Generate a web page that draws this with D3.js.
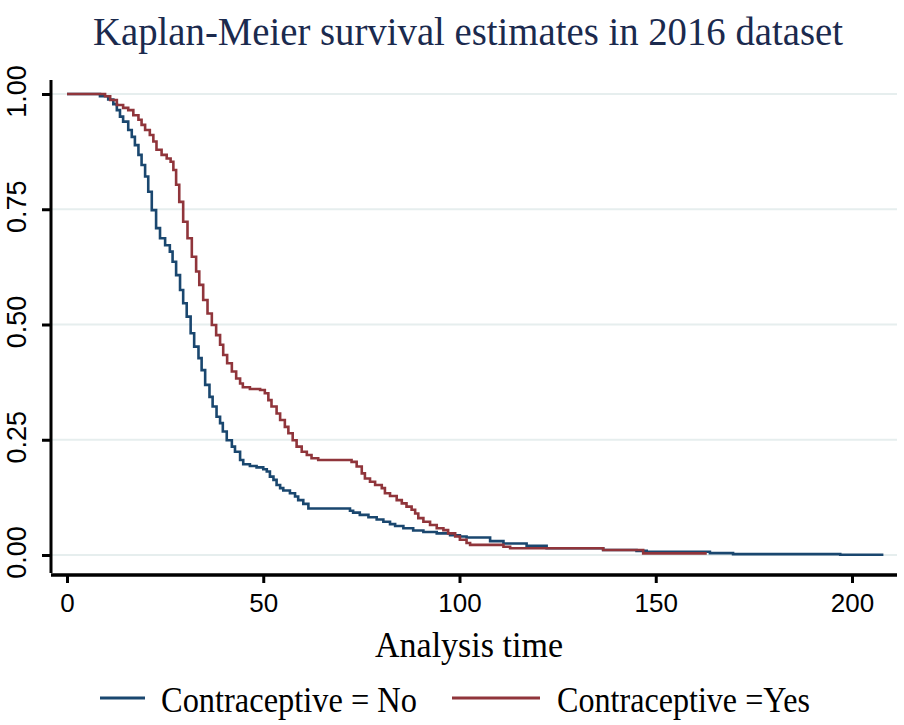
<!DOCTYPE html>
<html>
<head>
<meta charset="utf-8">
<script src="https://cdn.jsdelivr.net/npm/d3@7"></script>
<style>
  body { margin: 0; background: #fff; }
  svg { display: block; }
</style>
</head>
<body>
<div id="chart"></div>
<script>
// Kaplan-Meier curves: [time, survival]
var seriesNames = ["Contraceptive = No", "Contraceptive =Yes"];
var seriesColors = ["#1a476f", "#90353b"];

var survNo = [
  [0, 1], [8.4, 0.995], [10.5, 0.988], [11.8, 0.978], [12.7, 0.965], [13.5, 0.951],
  [14.3, 0.94], [15.6, 0.922], [16.5, 0.907], [17.3, 0.889], [18.2, 0.868], [19.0, 0.846],
  [19.9, 0.821], [20.7, 0.788], [21.6, 0.748], [22.7, 0.709], [23.7, 0.687], [25.0, 0.672],
  [26.2, 0.658], [26.9, 0.636], [27.8, 0.607], [28.8, 0.575], [29.6, 0.546], [30.5, 0.517],
  [31.5, 0.481], [32.4, 0.452], [33.5, 0.427], [34.3, 0.401], [35.2, 0.369], [36.3, 0.343],
  [37.1, 0.322], [38.1, 0.3], [39.0, 0.286], [39.7, 0.268], [40.7, 0.249], [42.0, 0.235],
  [42.8, 0.224], [44.1, 0.206], [44.9, 0.197], [46.6, 0.193], [48.3, 0.19], [50.0, 0.186],
  [50.9, 0.181], [51.7, 0.17], [52.6, 0.163], [53.4, 0.152], [54.3, 0.145], [55.1, 0.14],
  [56.8, 0.134], [58.1, 0.127], [58.9, 0.119], [60.2, 0.111], [61.5, 0.101], [72.1, 0.096],
  [72.9, 0.092], [74.6, 0.087], [76.8, 0.082], [78.9, 0.077], [80.6, 0.072], [82.3, 0.067],
  [83.6, 0.063], [85.7, 0.058], [88.2, 0.053], [90.8, 0.05], [94.2, 0.047], [97.6, 0.043],
  [100.1, 0.04], [101.8, 0.038], [107.8, 0.03], [111.2, 0.025], [117.1, 0.02], [122.2, 0.0145],
  [136.6, 0.011], [145.1, 0.009], [147.7, 0.007], [163.8, 0.004], [169.7, 0.002], [197, 0.0005],
  [208, 0.0005]
];

var survYes = [
  [0, 1], [9.7, 0.995], [11.0, 0.987], [12.7, 0.976], [14.3, 0.97], [15.6, 0.965],
  [16.9, 0.954], [18.2, 0.944], [19.0, 0.933], [19.9, 0.922], [21.1, 0.911], [22.0, 0.897],
  [22.8, 0.879], [24.1, 0.868], [25.4, 0.86], [26.4, 0.853], [27.1, 0.835], [27.8, 0.803],
  [28.6, 0.766], [29.6, 0.723], [30.7, 0.687], [31.8, 0.647], [32.9, 0.615], [33.7, 0.586],
  [34.7, 0.553], [35.8, 0.524], [36.9, 0.499], [38.0, 0.477], [39.0, 0.456], [39.8, 0.434],
  [40.8, 0.416], [42.0, 0.398], [43.1, 0.383], [44.1, 0.372], [44.8, 0.364], [46.6, 0.36],
  [49.2, 0.358], [50.4, 0.351], [51.3, 0.336], [52.1, 0.322], [53.4, 0.307], [54.3, 0.293],
  [55.5, 0.278], [56.4, 0.264], [57.5, 0.249], [58.5, 0.235], [59.8, 0.224], [61.1, 0.217],
  [62.3, 0.21], [64.0, 0.206], [72.5, 0.202], [73.8, 0.192], [75.1, 0.177], [75.9, 0.166],
  [77.2, 0.159], [78.5, 0.152], [80.2, 0.145], [81.0, 0.134], [82.3, 0.128], [84.0, 0.119],
  [85.3, 0.112], [86.5, 0.105], [87.8, 0.098], [88.7, 0.09], [89.5, 0.08], [90.8, 0.072],
  [92.5, 0.065], [94.2, 0.058], [95.9, 0.054], [97.1, 0.047], [98.9, 0.04], [100.1, 0.033],
  [101.8, 0.026], [102.7, 0.022], [111.2, 0.018], [112.9, 0.0145], [136.6, 0.011],
  [146.8, 0.0036], [163, 0.0036]
];

var xTicks = [0, 50, 100, 150, 200];
var yTicks = [0, 0.25, 0.5, 0.75, 1];

var width = 904, height = 725;

var svg = d3.select("#chart").append("svg")
  .attr("width", width)
  .attr("height", height);

// scales (pixel anchors)
var x = d3.scaleLinear().domain([0, 200]).range([67, 852]);
var y = d3.scaleLinear().domain([0, 1]).range([555, 94]);

var serif = "'Liberation Serif', 'Times New Roman', serif";
var sans = "'Liberation Sans', Arial, sans-serif";

// title
svg.append("text")
  .attr("x", 468)
  .attr("y", 45)
  .attr("text-anchor", "middle")
  .attr("font-family", serif)
  .attr("font-size", 40)
  .attr("fill", "#1b2a4e")
  .attr("textLength", 750)
  .attr("lengthAdjust", "spacingAndGlyphs")
  .text("Kaplan-Meier survival estimates in 2016 dataset");

// grid lines
svg.append("g").selectAll("line")
  .data(yTicks)
  .enter().append("line")
  .attr("x1", 52)
  .attr("x2", 897)
  .attr("y1", function (d) { return y(d); })
  .attr("y2", function (d) { return y(d); })
  .attr("stroke", "#e6eeee")
  .attr("stroke-width", 2);

// y axis
var yAxis = svg.append("g")
  .attr("transform", "translate(51,0)")
  .call(d3.axisLeft(y).tickValues(yTicks).tickSize(9).tickFormat(d3.format(".2f")));
yAxis.select(".domain").remove();
yAxis.selectAll("line").attr("stroke", "#000").attr("stroke-width", 3);
yAxis.selectAll("text")
  .attr("x", 0)
  .attr("dy", null)
  .attr("transform", "translate(-25,-3) rotate(-90)")
  .attr("text-anchor", "middle")
  .attr("font-family", sans)
  .attr("font-size", 27)
  .attr("fill", "#000");

svg.append("line")
  .attr("x1", 51).attr("x2", 51)
  .attr("y1", 80).attr("y2", 573)
  .attr("stroke", "#000").attr("stroke-width", 3);

// x axis
var xAxis = svg.append("g")
  .attr("transform", "translate(0,575)")
  .call(d3.axisBottom(x).tickValues(xTicks).tickSize(8));
xAxis.select(".domain").remove();
xAxis.selectAll("line").attr("stroke", "#000").attr("stroke-width", 3);
xAxis.selectAll("text")
  .attr("y", 37)
  .attr("dy", null)
  .attr("font-family", sans)
  .attr("font-size", 26)
  .attr("fill", "#000");

svg.append("line")
  .attr("x1", 51).attr("x2", 897)
  .attr("y1", 575).attr("y2", 575)
  .attr("stroke", "#000").attr("stroke-width", 3.5);

svg.append("text")
  .attr("x", 469)
  .attr("y", 657)
  .attr("text-anchor", "middle")
  .attr("font-family", serif)
  .attr("font-size", 35)
  .attr("fill", "#000")
  .attr("textLength", 188)
  .attr("lengthAdjust", "spacingAndGlyphs")
  .text("Analysis time");

// survival curves
var line = d3.line()
  .x(function (d) { return x(d[0]); })
  .y(function (d) { return y(d[1]); })
  .curve(d3.curveStepAfter);

svg.append("path")
  .datum(survNo)
  .attr("d", line)
  .attr("fill", "none")
  .attr("stroke", seriesColors[0])
  .attr("stroke-width", 2.6);

svg.append("path")
  .datum(survYes)
  .attr("d", line)
  .attr("fill", "none")
  .attr("stroke", seriesColors[1])
  .attr("stroke-width", 2.6);

// legend
var legendKeys = [[100, 145], [452, 540]];
var legendText = [[161, 256], [557, 253]];

seriesNames.forEach(function (name, i) {
  svg.append("line")
    .attr("x1", legendKeys[i][0]).attr("x2", legendKeys[i][1])
    .attr("y1", 698).attr("y2", 698)
    .attr("stroke", seriesColors[i])
    .attr("stroke-width", 3);
  svg.append("text")
    .attr("x", legendText[i][0])
    .attr("y", 712)
    .attr("font-family", serif)
    .attr("font-size", 36)
    .attr("fill", "#000")
    .attr("textLength", legendText[i][1])
    .attr("lengthAdjust", "spacingAndGlyphs")
    .text(name);
});
</script>
</body>
</html>
